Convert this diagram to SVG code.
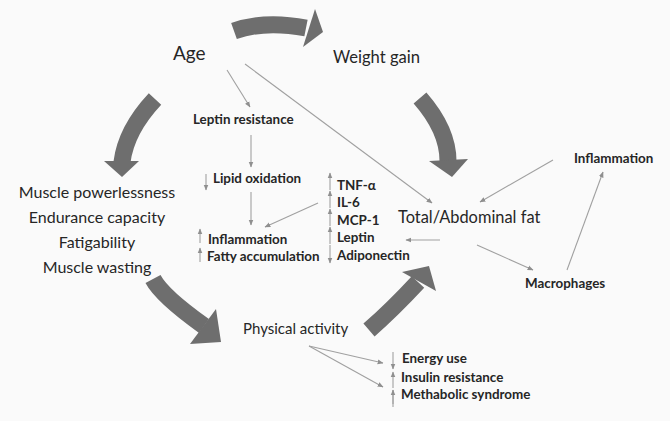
<svg xmlns="http://www.w3.org/2000/svg" width="670" height="421" viewBox="0 0 670 421">
<defs>
<marker id="ah" viewBox="0 0 10 10" refX="9" refY="5" markerWidth="6" markerHeight="6" markerUnits="userSpaceOnUse" orient="auto">
<path d="M0,1 L10,5 L0,9 Z" fill="#8f8f8f"/>
</marker>
<style>
.bg{fill:#fafafa}
.big{fill:none;stroke:#6e6e6e;stroke-width:17}
.head{fill:#6e6e6e}
.thin{fill:none;stroke:#a0a0a0;stroke-width:1.1;marker-end:url(#ah)}
.bar{fill:none;stroke:#a0a0a0;stroke-width:1.1}
.t{font-family:Lato,"Liberation Sans",sans-serif;fill:#262626}
.lg{font-size:16px}
.xl{font-size:19px}
.b{font-family:Lato,"Liberation Sans",sans-serif;font-weight:bold;font-size:13.4px;fill:#262626}
</style>
</defs>
<rect class="bg" x="0" y="0" width="670" height="421"/>

<g id="cycle-arrows">
<path class="big" d="M234,31 Q265,20 306,28"/>
<polygon class="head" points="315,9 323,32 303,47"/>
<path class="big" d="M420,98 Q448,130 448,161"/>
<polygon class="head" points="429,161 468,159 452,177"/>
<path class="big" d="M155,99 Q126,130 122,162"/>
<polygon class="head" points="104,161 139,161 122,177"/>
<path class="big" d="M153,279 Q162,296 204,326"/>
<polygon class="head" points="216,309 221,342 190,344"/>
<path class="big" d="M369,330 Q392,310 418,282"/>
<polygon class="head" points="402,272 436,291 429,266"/>
</g>

<g id="connectors">
<path class="thin" d="M227,70 L250,107"/>
<path class="thin" d="M245,64 L432,203"/>
<path class="thin" d="M251,135 L251,167"/>
<path class="thin" d="M251,192 L251,225"/>
<path class="thin" d="M318,203 L265,227"/>
<path class="thin" d="M440,240 L406,240"/>
<path class="thin" d="M477,245 L533,270"/>
<path class="thin" d="M553,160 L480,202"/>
<path class="thin" d="M567,270 L603,172"/>
<path class="thin" d="M309,346 L383,363"/>
<path class="thin" d="M309,346 L383,387"/>
</g>

<g id="indicators">
<path class="thin" d="M206,174 L206,190"/>
<path class="thin" d="M200,243 L200,229"/>
<path class="thin" d="M200,262 L200,248"/>
<path class="thin" d="M330,190 L330,173"/>
<path class="thin" d="M330,208 L330,191"/>
<path class="thin" d="M330,226 L330,209"/>
<path class="thin" d="M330,244 L330,227"/>
<path class="thin" d="M330,245 L330,263"/>
<path class="thin" d="M393,352 L393,369"/>
<path class="thin" d="M393,388 L393,372"/>
<path class="bar" d="M393,390 L393,407"/>
<path class="thin" d="M393,404 L393,390"/>
</g>

<g id="age"><text class="t xl" x="173" y="60">Age</text></g>
<g id="weight-gain"><text class="t" x="333" y="63" font-size="16.6">Weight gain</text></g>
<g id="leptin-resistance"><text class="b" x="193" y="124">Leptin resistance</text></g>
<g id="lipid-oxidation"><text class="b" x="213" y="183">Lipid oxidation</text></g>
<g id="muscle">
<text class="t lg" x="97" y="198" text-anchor="middle">Muscle powerlessness</text>
<text class="t lg" x="97" y="223" text-anchor="middle">Endurance capacity</text>
<text class="t lg" x="97" y="248" text-anchor="middle">Fatigability</text>
<text class="t lg" x="97" y="273" text-anchor="middle">Muscle wasting</text>
</g>
<g id="inflammation-fatty">
<text class="b" x="208" y="244">Inflammation</text>
<text class="b" x="207" y="261">Fatty accumulation</text>
</g>
<g id="cytokines">
<text class="b" x="337" y="190">TNF-α</text>
<text class="b" x="337" y="207">IL-6</text>
<text class="b" x="337" y="225">MCP-1</text>
<text class="b" x="337" y="242">Leptin</text>
<text class="b" x="337" y="260">Adiponectin</text>
</g>
<g id="total-fat"><text class="t" x="398" y="223" font-size="16.4">Total/Abdominal fat</text></g>
<g id="inflammation"><text class="b" x="574" y="163">Inflammation</text></g>
<g id="macrophages"><text class="b" x="525" y="288">Macrophages</text></g>
<g id="physical-activity"><text class="t" x="243" y="334" font-size="15">Physical activity</text></g>
<g id="outcomes">
<text class="b" x="402" y="363">Energy use</text>
<text class="b" x="401" y="382">Insulin resistance</text>
<text class="b" x="401" y="399">Methabolic syndrome</text>
</g>
</svg>
